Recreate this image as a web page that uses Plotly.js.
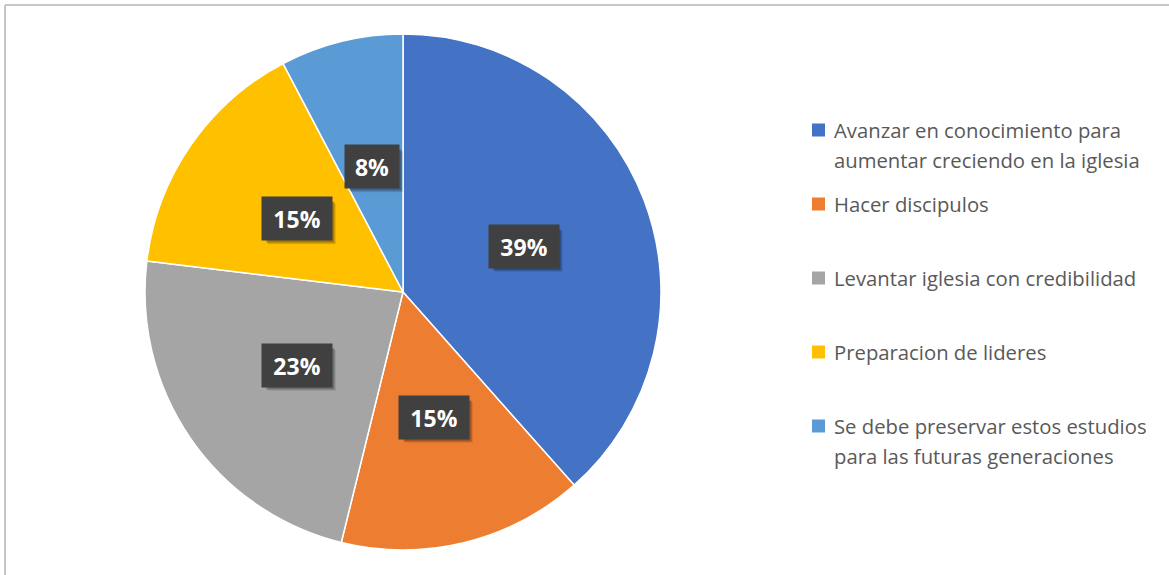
<!DOCTYPE html>
<html>
<head>
<meta charset="utf-8">
<script src="https://cdn.plot.ly/plotly-3.0.1.min.js"></script>
<style>
html,body{margin:0;padding:0;background:#fff;}
#chart{width:1169px;height:575px;}
</style>
</head>
<body>
<div id="chart"></div>
<script>
// ---- data ----
const categories = [
  "Avanzar en conocimiento para<br>aumentar creciendo en la iglesia",
  "Hacer discipulos",
  "Levantar iglesia con credibilidad",
  "Preparacion de lideres",
  "Se debe preservar estos estudios<br>para las futuras generaciones"
];
const percentages = [38.5, 15.4, 23.1, 15.4, 7.7];
const colors = ["#4472C4", "#ED7D31", "#A5A5A5", "#FFC000", "#5B9BD5"];

// ---- layout geometry ----
const W = 1169, H = 575;
const cxPx = 403, cyPx = 292, rPx = 258;
const dom = {
  x: [(cxPx - rPx) / W, (cxPx + rPx) / W],
  y: [(H - cyPx - rPx) / H, (H - cyPx + rPx) / H]
};

const total = percentages.reduce((a, b) => a + b, 0);
const pctText = percentages.map(v => Math.round(v) + "%");

const trace = {
  type: "pie",
  values: percentages,
  labels: categories,
  sort: false,
  direction: "clockwise",
  rotation: 0,
  domain: dom,
  marker: { colors: colors, line: { color: "#ffffff", width: 1.5 } },
  textinfo: "none",
  hoverinfo: "label+value",
  showlegend: false
};

const annotations = [];
const shapes = [];

// data labels at slice mid-angles
let cum = 0;
percentages.forEach((v, i) => {
  const mid = (cum + v / 2) / total * 2 * Math.PI;
  cum += v;
  const rr = rPx * 0.5;
  const px = cxPx + rr * Math.sin(mid);
  const py = cyPx - rr * Math.cos(mid);
  const bw = pctText[i].length > 2 ? 68 : 52, bh = 41;
  // soft shadow behind the label box
  [[5, 0.10], [4, 0.14], [3, 0.16]].forEach(([o, a]) => {
    shapes.push({
      type: "rect", xref: "paper", yref: "paper", layer: "above",
      x0: (px - bw / 2 + o) / W, x1: (px + bw / 2 + o) / W,
      y0: (H - (py + bh / 2 + o)) / H, y1: (H - (py - bh / 2 + o)) / H,
      fillcolor: "rgba(0,0,0," + a + ")", line: { width: 0 }
    });
  });
  annotations.push({
    xref: "paper", yref: "paper", showarrow: false,
    xanchor: "center", yanchor: "middle",
    x: px / W, y: (H - py) / H,
    text: "<b>" + pctText[i] + "</b>",
    width: bw, height: bh, bgcolor: "#404040",
    font: { family: "'Open Sans', Lato, sans-serif", size: 23, color: "#ffffff" }
  });
});

// manual legend
const legX = 812, legText = 832, legTop = 130, legStep = 74, lineStep = 30, sq = 13;
categories.forEach((c, i) => {
  const y0 = legTop + legStep * i;
  shapes.push({
    type: "rect", xref: "paper", yref: "paper",
    x0: legX / W, x1: (legX + sq) / W,
    y0: (H - y0 - sq / 2) / H, y1: (H - y0 + sq / 2) / H,
    fillcolor: colors[i], line: { width: 0 }
  });
  c.split("<br>").forEach((ln, j) => {
    annotations.push({
      xref: "paper", yref: "paper", showarrow: false,
      x: legText / W, y: (H - (y0 + j * lineStep)) / H,
      xanchor: "left", yanchor: "middle",
      text: ln,
      font: { family: "'Open Sans', Lato, sans-serif", size: 20.3, color: "#595959" }
    });
  });
});

// chart frame (top & left edges visible)
shapes.push({ type: "line", xref: "paper", yref: "paper",
  x0: 5 / W, x1: 1, y0: (H - 5) / H, y1: (H - 5) / H,
  line: { color: "#c6c6c6", width: 2 } });
shapes.push({ type: "line", xref: "paper", yref: "paper",
  x0: 5 / W, x1: 5 / W, y0: 0, y1: (H - 5) / H,
  line: { color: "#c6c6c6", width: 2 } });

const layout = {
  width: W, height: H,
  margin: { l: 0, r: 0, t: 0, b: 0 },
  paper_bgcolor: "#ffffff",
  showlegend: false,
  annotations: annotations,
  shapes: shapes
};

Plotly.newPlot("chart", [trace], layout, { displayModeBar: false, staticPlot: true });
</script>
</body>
</html>
